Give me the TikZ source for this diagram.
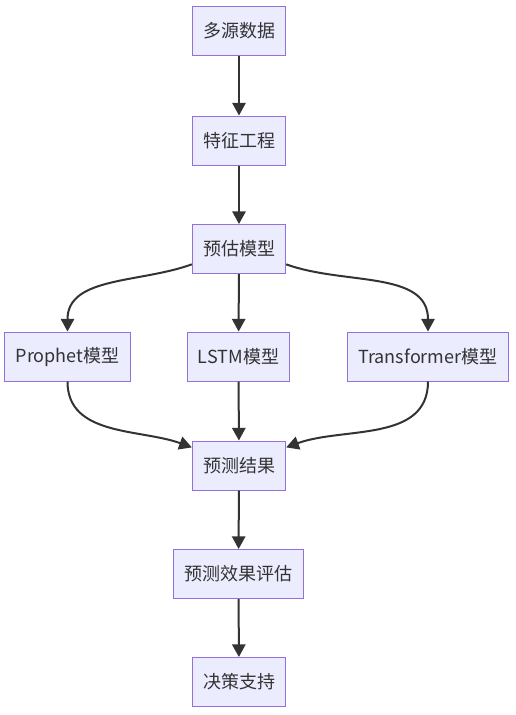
\documentclass[tikz,border=0pt]{standalone}
\usepackage{fontspec}
\setmainfont{Noto Sans CJK SC}
\usetikzlibrary{arrows.meta, positioning, calc}
\definecolor{boxfill}{HTML}{ECECFF}
\definecolor{boxline}{HTML}{9370DB}
\definecolor{edgegray}{HTML}{333333}
\definecolor{textgray}{HTML}{333333}

\begin{document}
\begin{tikzpicture}[x=0.75pt, y=0.75pt,
    block/.style={rectangle, draw=boxline, fill=boxfill, line width=0.75pt, minimum height=36.75pt, inner xsep=8pt, font=\fontsize{13.5pt}{16pt}\selectfont, text=textgray, align=center},
    arr/.style={-{Triangle[length=9.5pt, width=10pt]}, line width=1.5pt, draw=edgegray}
  ]
  \useasboundingbox (0,0) rectangle (515,-715);

  % Pipeline
  \node[block] (src) at (239, -30.5) {多源数据};
  \node[block] (feat) at (239, -140.5) {特征工程};
  \node[block] (est) at (239, -249) {预估模型};

  % Models
  \node[block] (prophet) at (67.5, -356.5) {Prophet模型};
  \node[block] (lstm) at (238.5, -356.5) {LSTM模型};
  \node[block] (trans) at (428, -356.5) {Transformer模型};

  % Output
  \node[block] (res) at (239, -465.5) {预测结果};
  \node[block] (eval) at (238.5, -574) {预测效果评估};
  \node[block] (dec) at (239, -682) {决策支持};

  \draw[arr] (src) -- (feat);
  \draw[arr] (feat) -- (est);
  \draw[arr] (est.198) to[out=200, in=90] (prophet.north);
  \draw[arr] (est) -- (lstm);
  \draw[arr] (est.-18) to[out=-20, in=90] (trans.north);
  \draw[arr] (prophet.south) to[out=-90, in=160] (res.159);
  \draw[arr] (lstm) -- (res);
  \draw[arr] (trans.south) to[out=-90, in=20] (res.21);
  \draw[arr] (res) -- (eval);
  \draw[arr] (eval) -- (dec);
\end{tikzpicture}
\end{document}
